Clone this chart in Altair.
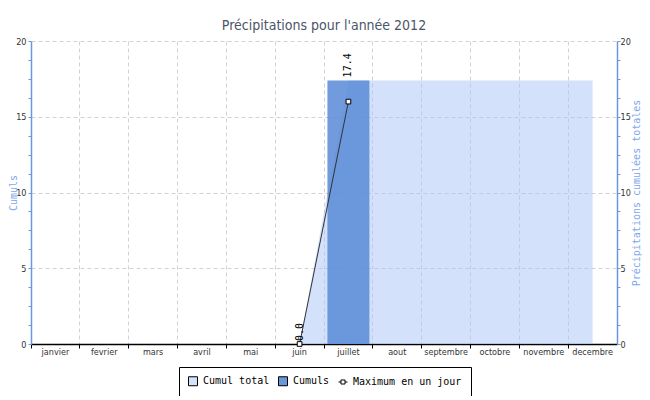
import altair as alt
import pandas as pd

months = ["janvier", "fevrier", "mars", "avril", "mai", "juin", "juillet",
          "aout", "septembre", "octobre", "novembre", "decembre"]
cumul_total = [None, None, None, None, None, 0.0, 17.4, 17.4, 17.4, 17.4, 17.4, 17.4]
cumuls = [None, None, None, None, None, 0.0, 17.4, None, None, None, None, None]
maximum = [None, None, None, None, None, 0.0, 16.0, None, None, None, None, None]

series = ["Cumul total", "Cumuls", "Maximum en un jour"]
legend_fills = ["#d3e1fa", "#6a96dc", "#ffffff"]
legend_shapes = ["square", "square", "M-1,0H-0.45M0.45,0H1M-0.45,-0.45H0.45V0.45H-0.45Z"]
y_ticks = [i * 1.25 for i in range(17)]

COND = "DejaVu Sans Condensed, Liberation Sans Narrow, Arial Narrow, sans-serif"
MONO = "DejaVu Sans Mono, Liberation Mono, monospace"
BLUE = "#6b97dd"
BLUE_T = "#7ea8ee"

df = pd.DataFrame({"mois": months, "cumul_total": cumul_total,
                   "cumuls": cumuls, "maximum": maximum})

x_enc = alt.X("mois:N", sort=months,
              scale=alt.Scale(paddingInner=0, paddingOuter=0),
              axis=alt.Axis(title=None, bandPosition=0, grid=True,
                            gridDash=[4, 3], gridColor="#d2d2d2",
                            domainColor="black", domainWidth=1.5,
                            tickColor="black", tickSize=4, labelPadding=-1,
                            labelAngle=0, labelFont=COND, labelFontSize=9,
                            labelColor="#333333"))

x_plain = alt.X("mois:N", sort=months)

yscale = alt.Scale(domain=[0, 20], nice=False, zero=True)

left_axis = alt.Axis(title="Cumuls", values=y_ticks, tickSize=3,
                     labelPadding=2, labelFlush=False, labelOverlap=False,
                     labelExpr="datum.value % 5 === 0 ? format(datum.value, 'd') : ''",
                     labelFont=COND, labelFontSize=9, labelColor="#333333",
                     domainColor=BLUE, domainWidth=1.5, tickColor=BLUE,
                     grid=True, gridDash=[4, 3], gridColor="#d2d2d2",
                     gridOpacity={"condition": {"test": "datum.value % 5 === 0 && datum.value > 0", "value": 1}, "value": 0},
                     titleFont=MONO, titleFontSize=10, titleColor=BLUE_T,
                     titleFontWeight="normal", titleX=-13, orient="left")

right_axis = alt.Axis(title="Précipitations cumulées totales", values=y_ticks,
                      tickSize=3, labelPadding=0, labelFlush=False, labelOverlap=False,
                      labelExpr="datum.value % 5 === 0 ? format(datum.value, 'd') : ''",
                      labelFont=COND, labelFontSize=9, labelColor="#333333",
                      domainColor=BLUE, domainWidth=1.5, tickColor=BLUE,
                      grid=False, titleFont=MONO, titleFontSize=10,
                      titleColor=BLUE_T, titleFontWeight="normal",
                      titleAngle=270, titleBaseline="top", titleX=14,
                      orient="right")

legend = alt.Legend(
    title=None, orient="none", legendX=148, legendY=326, direction="horizontal",
    strokeColor="black", fillColor="white", padding=9, columnPadding=6,
    labelFont=MONO, labelFontSize=10, labelColor="black", labelOffset=5,
    symbolSize=81, symbolStrokeWidth=1, symbolStrokeColor="black",
    symbolOpacity=1)

base = alt.Chart(df)

area = base.mark_area(opacity=0.5, color="#a7c3f5").encode(
    x=x_enc,
    y=alt.Y("cumul_total:Q", scale=yscale, axis=right_axis),
)

bar = base.mark_bar(width=alt.RelativeBandSize(0.86), opacity=0.85,
                    color="#5889d7").encode(
    x=x_plain,
    y=alt.Y("cumuls:Q", scale=yscale, axis=left_axis),
)

line = base.mark_line(strokeWidth=1, color="#333333").encode(
    x=x_plain,
    y=alt.Y("maximum:Q", scale=yscale, axis=None),
)

points = base.mark_point(shape="square", size=22, filled=True, fill="white",
                         stroke="black", strokeWidth=1, opacity=1).encode(
    x=x_plain,
    y=alt.Y("maximum:Q", scale=yscale, axis=None),
)

labels = base.transform_filter("isValid(datum.cumuls)").mark_text(
    angle=270, align="left", baseline="middle", dx=3,
    font=MONO, fontSize=10, color="black").encode(
    x=x_plain,
    y=alt.Y("cumuls:Q", scale=yscale, axis=None),
    text=alt.Text("cumuls:Q", format=".1f"),
)

legend_layer = base.transform_filter("false").transform_calculate(
    serie="'Cumuls'").mark_point(filled=True, opacity=1, strokeWidth=1).encode(
    x=x_plain,
    y=alt.Y("maximum:Q", scale=yscale, axis=None),
    fill=alt.Fill("serie:N", scale=alt.Scale(domain=series, range=legend_fills), legend=legend),
    stroke=alt.Stroke("serie:N", scale=alt.Scale(domain=series, range=["#000000"] * 3), legend=legend),
    shape=alt.Shape("serie:N", scale=alt.Scale(domain=series, range=legend_shapes), legend=legend),
)

chart = alt.layer(area, bar, line, points, labels, legend_layer).resolve_scale(
    y="independent"
).properties(
    width=586, height=303,
    title=alt.Title("Précipitations pour l'année 2012", font=COND, fontSize=14,
                    color="#4b5568", fontWeight="normal", offset=4,
                    anchor="middle"),
    autosize=alt.AutoSizeParams(type="none"),
    padding={"left": 23, "top": 33, "right": 25, "bottom": 52},
).configure_view(stroke="transparent")

chart.save("out.html", embed_options={"renderer": "svg", "actions": False})
